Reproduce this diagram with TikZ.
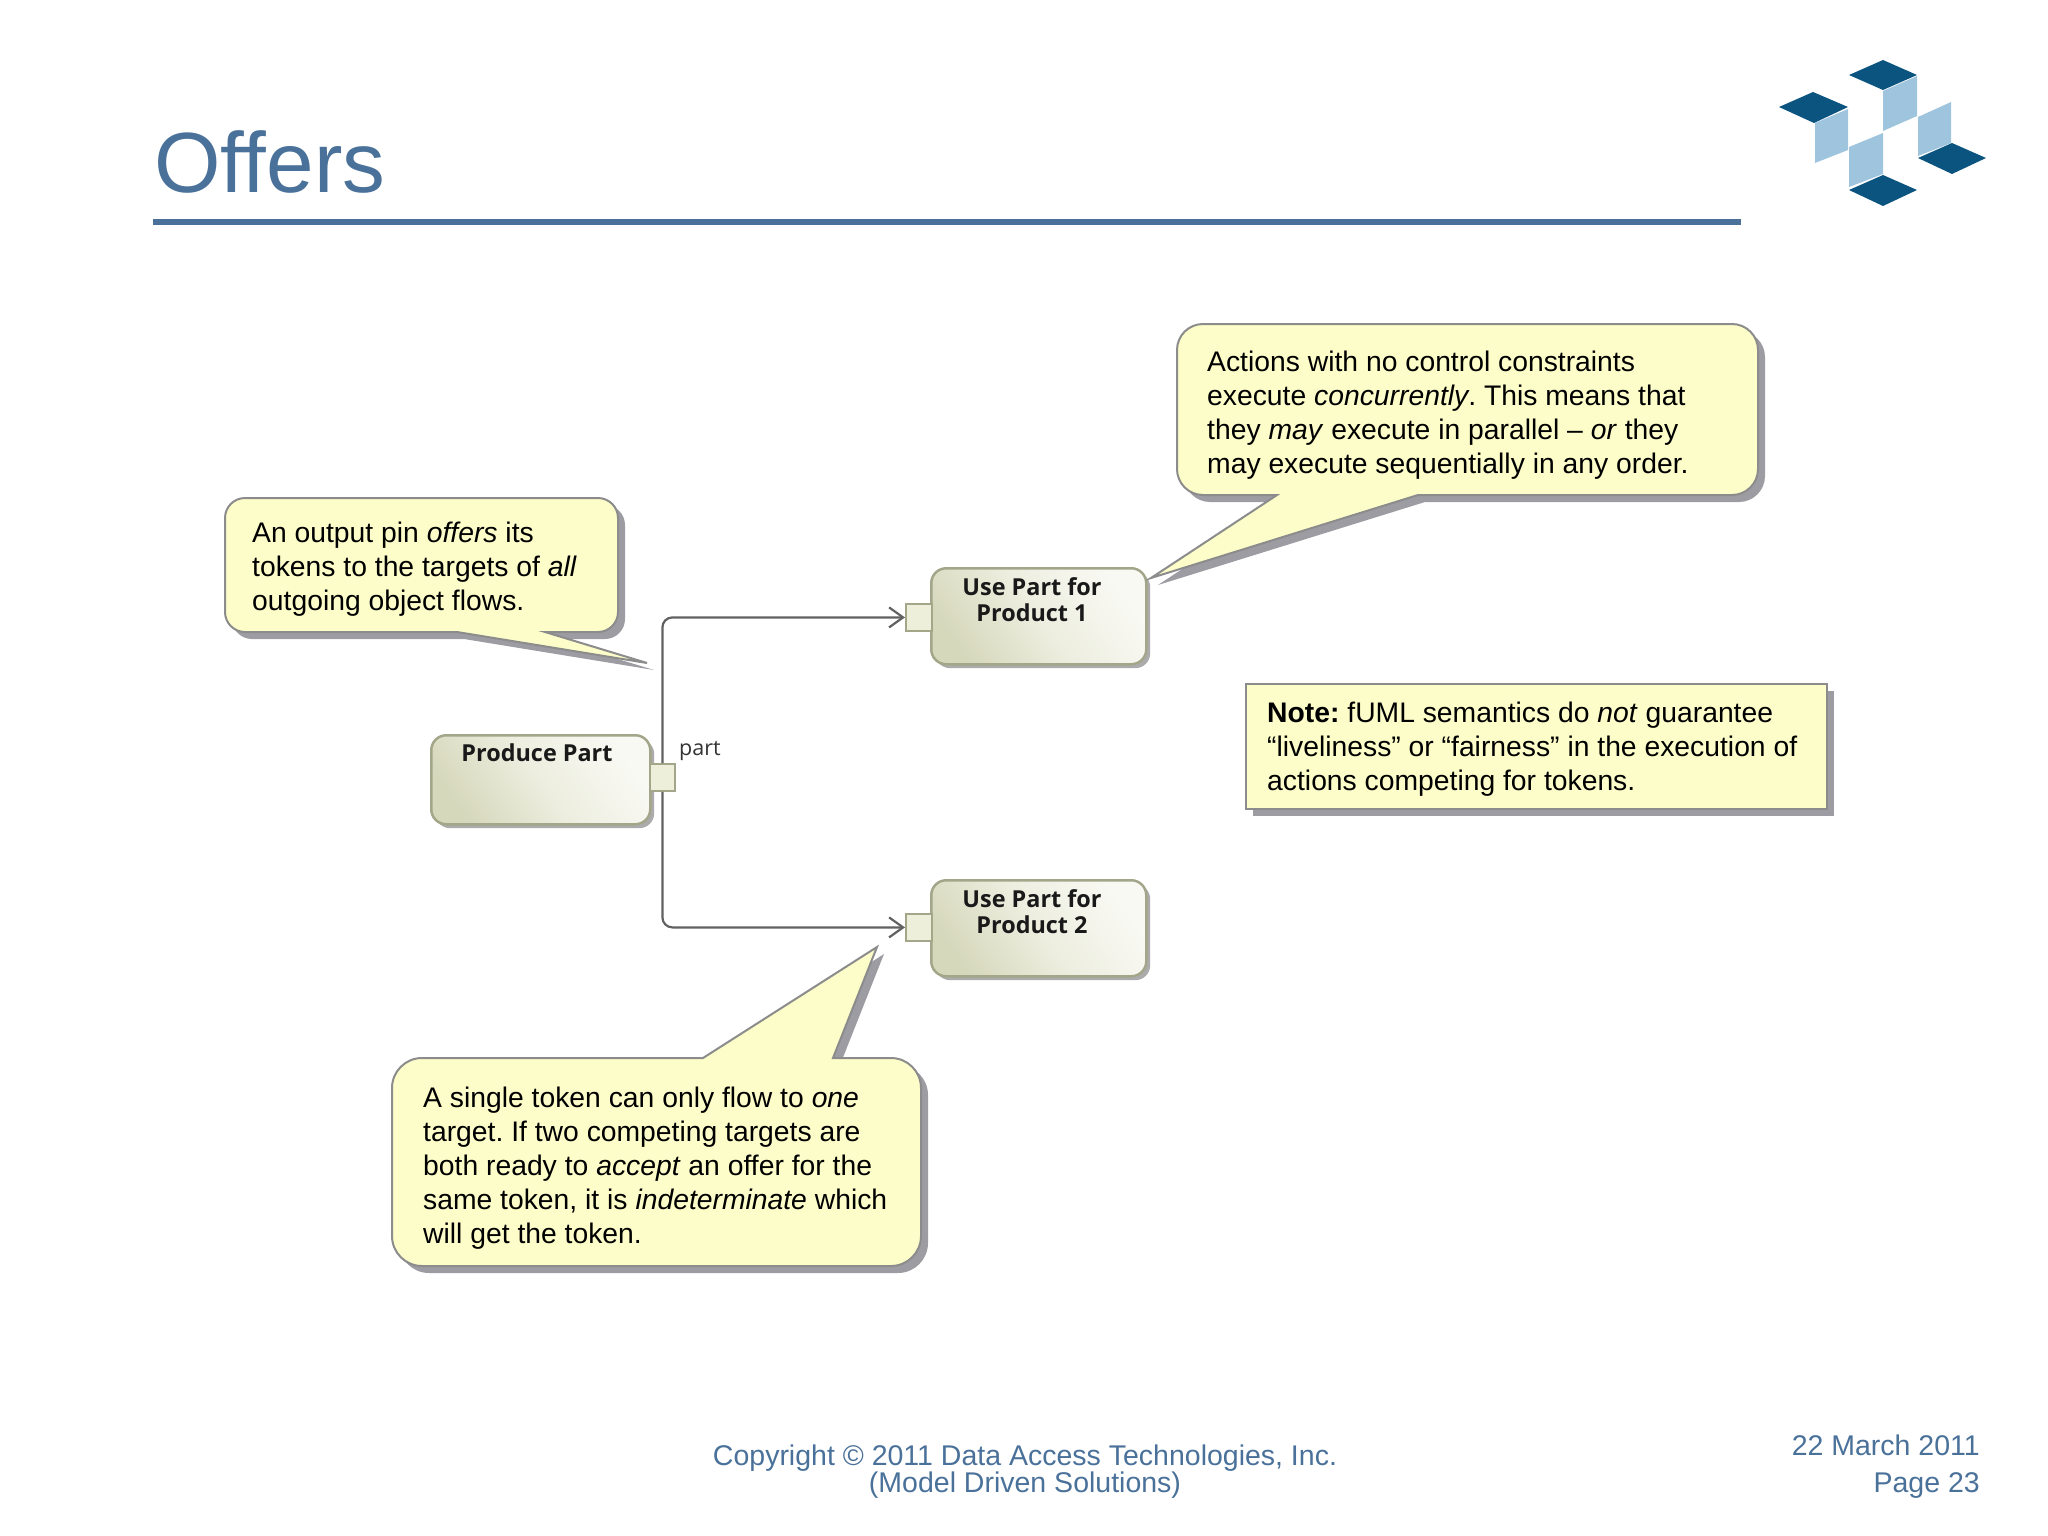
\documentclass[tikz,border=0pt]{standalone}
\usepackage{fontspec}
\setmainfont{Liberation Sans}
\newfontfamily\umlfont{Open Sans}
\usetikzlibrary{arrows.meta}
\frenchspacing
\definecolor{slateblue}{HTML}{4A7199}
\definecolor{logodark}{HTML}{0B5480}
\definecolor{logolight}{HTML}{9FC4DD}
\definecolor{noteyellow}{HTML}{FDFDC9}
\definecolor{noteline}{HTML}{8C8C8C}
\definecolor{noteshadow}{HTML}{9C9CA2}
\definecolor{actdark}{HTML}{D6D8BC}
\definecolor{actmid}{HTML}{EDEEDF}
\definecolor{actlight}{HTML}{F9F9F4}
\definecolor{actline}{HTML}{A4A68A}
\definecolor{actshadow}{HTML}{ABABAB}
\definecolor{pinfill}{HTML}{EEEFDB}
\newcommand\lns[1]{\begin{tabular}[t]{@{}l@{}}#1\end{tabular}}
\newcommand\clns[1]{\begin{tabular}[t]{@{}c@{}}#1\end{tabular}}
% left, top, right, bottom, radius, base left, base right, tip x, tip y
\newcommand\tailbelow[9]{(#6,#4) -- (#1+#5,#4) arc[start angle=270,end angle=180,radius=#5pt]
  -- (#1,#2+#5) arc[start angle=180,end angle=90,radius=#5pt]
  -- (#3-#5,#2) arc[start angle=90,end angle=0,radius=#5pt]
  -- (#3,#4-#5) arc[start angle=0,end angle=-90,radius=#5pt]
  -- (#7,#4) -- (#8,#9) -- cycle}
\newcommand\tailabove[9]{(#7,#2) -- (#3-#5,#2) arc[start angle=90,end angle=0,radius=#5pt]
  -- (#3,#4-#5) arc[start angle=0,end angle=-90,radius=#5pt]
  -- (#1+#5,#4) arc[start angle=270,end angle=180,radius=#5pt]
  -- (#1,#2+#5) arc[start angle=180,end angle=90,radius=#5pt]
  -- (#6,#2) -- (#8,#9) -- cycle}
\tikzset{
  x=1pt,y=-1pt,
  notebody/.style={fill=noteyellow,draw=noteline,line width=2pt,line join=miter},
  noteshade/.style={fill=noteshadow,draw=none,shift={(7pt,-7pt)}},
  notetext/.style={anchor=base west,inner sep=0pt,font=\fontsize{28.3}{34}\selectfont,text=black},
  footer/.style={inner sep=0pt,font=\fontsize{28.5}{27.5}\selectfont,text=slateblue},
  actbox/.style={anchor=north west,inner sep=0pt,rounded corners=15pt,draw=actline,line width=2.5pt,
    top color=actdark,bottom color=actlight,middle color=actmid,shading angle=125},
  actshade/.style={anchor=north west,inner sep=0pt,rounded corners=15pt,fill=actshadow,draw=none},
  acttext/.style={inner sep=0pt,font=\umlfont\bfseries\fontsize{23.4}{26}\selectfont,text=black!90},
  pinbox/.style={anchor=north west,inner sep=0pt,fill=pinfill,draw=actline,line width=1.8pt},
  flow/.style={draw=black!62,line width=2.2pt,rounded corners=10pt,-{Straight Barb[length=14pt,width=20pt,line width=2.2pt]}},
  logotop/.style={fill=logodark,draw=none},
  logoside/.style={fill=logolight,draw=none},
}
\begin{document}
\begin{tikzpicture}
\useasboundingbox (0,0) rectangle (2048,1536);
% title
\node[anchor=base west,inner sep=0pt,font=\fontsize{85.5}{90}\selectfont,text=slateblue] (title) at (154,193) {Offers};
\fill[slateblue] (153,219) rectangle (1741,225);
% logo
\fill[logoside] (1883,91) -- (1917,76) -- (1917,116) -- (1883,131) -- cycle;
\fill[logoside] (1815,123) -- (1848,109) -- (1848,150) -- (1815,163) -- cycle;
\fill[logoside] (1849,147) -- (1883,133) -- (1883,174) -- (1849,187) -- cycle;
\fill[logoside] (1918,117) -- (1951,102) -- (1951,143) -- (1918,156) -- cycle;
\fill[logotop] (1849,75) -- (1883,60) -- (1917,75) -- (1883,90) -- cycle;
\fill[logotop] (1779,107) -- (1813,92) -- (1848,107) -- (1814,123) -- cycle;
\fill[logotop] (1918,158) -- (1952,143) -- (1986,158) -- (1952,174) -- cycle;
\fill[logotop] (1849,190) -- (1883,175) -- (1917,190) -- (1883,206) -- cycle;
% action shadows
\node[actshade,minimum width=215pt,minimum height=96pt] (s1) at (935,572) {};
\node[actshade,minimum width=215pt,minimum height=96pt] (s2) at (935,884) {};
\node[actshade,minimum width=219pt,minimum height=89pt] (s0) at (435,739) {};
% actions
\node[actbox,minimum width=215pt,minimum height=96pt] (use1) at (930,567) {};
\node[actbox,minimum width=215pt,minimum height=96pt] (use2) at (930,879) {};
\node[actbox,minimum width=219pt,minimum height=89pt] (prod) at (430,734) {};
\node[acttext,anchor=base] (use1t) at (1032,595) {\clns{Use Part for\\Product 1}};
\node[acttext,anchor=base] (use2t) at (1032,907) {\clns{Use Part for\\Product 2}};
\node[acttext,anchor=base] (prodt) at (537,761) {Produce Part};
% pins
\node[pinbox,minimum width=25pt,minimum height=27pt] (pinout) at (649,763) {};
\node[pinbox,minimum width=26pt,minimum height=27pt] (pin1) at (905,603) {};
\node[pinbox,minimum width=26pt,minimum height=27pt] (pin2) at (905,913) {};
\node[anchor=base west,inner sep=0pt,font=\umlfont\fontsize{21.5}{26}\selectfont,text=black!80] (partlabel) at (679,755) {part};
% flows
\draw[flow] (pinout.north) |- (pin1.west);
\draw[flow] (pinout.south) |- (pin2.west);
% left callout
\path[noteshade] \tailbelow{225}{498}{618}{632}{20}{457}{545}{647}{663};
\path[notebody] \tailbelow{225}{498}{618}{632}{20}{457}{545}{647}{663};
\node[notetext] (t1) at (252,542) {\lns{An output pin \textit{offers} its\\tokens to the targets of \textit{all}\\outgoing object flows.}};
% top callout
\path[noteshade] \tailbelow{1177}{324}{1758}{495}{26}{1277}{1418}{1151}{578};
\path[notebody] \tailbelow{1177}{324}{1758}{495}{26}{1277}{1418}{1151}{578};
\node[notetext] (t2) at (1207,371) {\lns{Actions with no control constraints\\execute \textit{concurrently}. This means that\\they \textit{may} execute in parallel -- \textit{or} they\\may execute sequentially in any order.}};
% bottom callout
\path[noteshade] \tailabove{392}{1058}{921}{1266}{30}{703}{833}{877}{947};
\path[notebody] \tailabove{392}{1058}{921}{1266}{30}{703}{833}{877}{947};
\node[notetext] (t3) at (423,1107) {\lns{A single token can only flow to \textit{one}\\target. If two competing targets are\\both ready to \textit{accept} an offer for the\\same token, it is \textit{indeterminate} which\\will get the token.}};
% note
\fill[noteshadow] (1253,691) rectangle (1834,816);
\node[anchor=north west,inner sep=0pt,fill=noteyellow,draw=noteline,line width=2pt,minimum width=581pt,minimum height=125pt] (notebox) at (1245,683) {};
\node[notetext] (t4) at (1267,722) {\lns{\textbf{Note:} fUML semantics do \textit{not} guarantee\\“liveliness” or “fairness” in the execution of\\actions competing for tokens.}};
% footer
\node[footer,anchor=base] (copy) at (1025,1465) {Copyright © 2011 Data Access Technologies, Inc.};
\node[footer,anchor=base] (copy2) at (1025,1492) {(Model Driven Solutions)};
\node[footer,anchor=base east] (date) at (1980,1455) {22 March 2011};
\node[footer,anchor=base east] (page) at (1980,1492) {Page 23};
\end{tikzpicture}
\end{document}
